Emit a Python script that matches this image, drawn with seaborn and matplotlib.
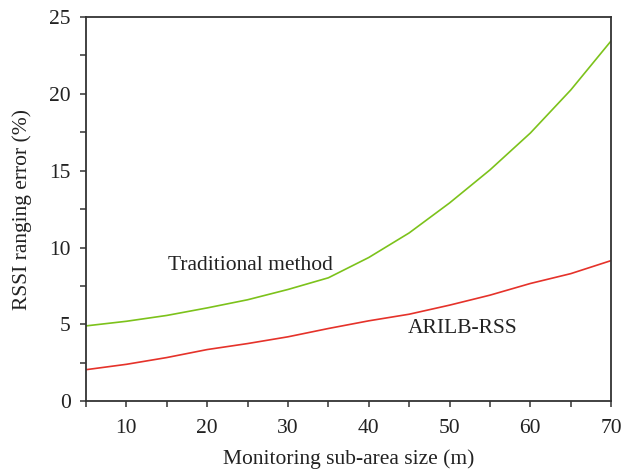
import numpy as np
import pandas as pd
import matplotlib
matplotlib.use("Agg")
import matplotlib.pyplot as plt
import seaborn as sns
from matplotlib.ticker import MultipleLocator

# ── data ─────────────────────────────────────────────────────────
area_size = [5, 10, 15, 20, 25, 30, 35, 40, 45, 50, 55, 60, 65, 70]
traditional = [4.9, 5.2, 5.58, 6.07, 6.6, 7.27, 8.03, 9.35, 10.95, 12.9, 15.05, 17.45, 20.25, 23.45]
arilb_rss = [2.05, 2.4, 2.84, 3.36, 3.75, 4.19, 4.73, 5.23, 5.66, 6.25, 6.9, 7.66, 8.3, 9.15]

df = pd.DataFrame({"size": area_size, "Traditional method": traditional,
                   "ARILB-RSS": arilb_rss})

sns.set_style("ticks")
plt.rcParams["font.family"] = ["Liberation Serif", "DejaVu Serif"]

fig = plt.figure(figsize=(6.23, 4.72), dpi=100)
ax = fig.add_axes([0.138, 0.150, 0.843, 0.814])

sns.lineplot(data=df, x="size", y="Traditional method", color="#7cc21b", lw=1.2, ax=ax)
sns.lineplot(data=df, x="size", y="ARILB-RSS", color="#e5322a", lw=1.2, ax=ax)

fs = 15.5
ax.text(25.3, 8.85, "Traditional method", ha="center", va="center", fontsize=fs, color="#222222")
ax.text(51.6, 4.75, "ARILB-RSS", ha="center", va="center", fontsize=fs, color="#222222")

ax.set_xlim(5, 70)
ax.set_ylim(0, 25)
ax.xaxis.set_major_locator(MultipleLocator(10))
ax.xaxis.set_minor_locator(MultipleLocator(5))
ax.yaxis.set_major_locator(MultipleLocator(5))
ax.yaxis.set_minor_locator(MultipleLocator(2.5))
ax.tick_params(which="both", direction="out", length=4, width=1.1, color="#333333",
               labelsize=fs, labelcolor="#222222", top=False, right=False)
ax.tick_params(axis="x", pad=9)
ax.tick_params(axis="y", pad=7)
for s in ax.spines.values():
    s.set_visible(True)
    s.set_color("#333333")
    s.set_linewidth(1.3)

ax.set_xlabel("Monitoring sub-area size (m)", fontsize=fs, color="#222222", labelpad=8)
ax.set_ylabel("RSSI ranging error (%)", fontsize=fs, color="#222222", labelpad=12)

fig.savefig("out.png", dpi=100)
